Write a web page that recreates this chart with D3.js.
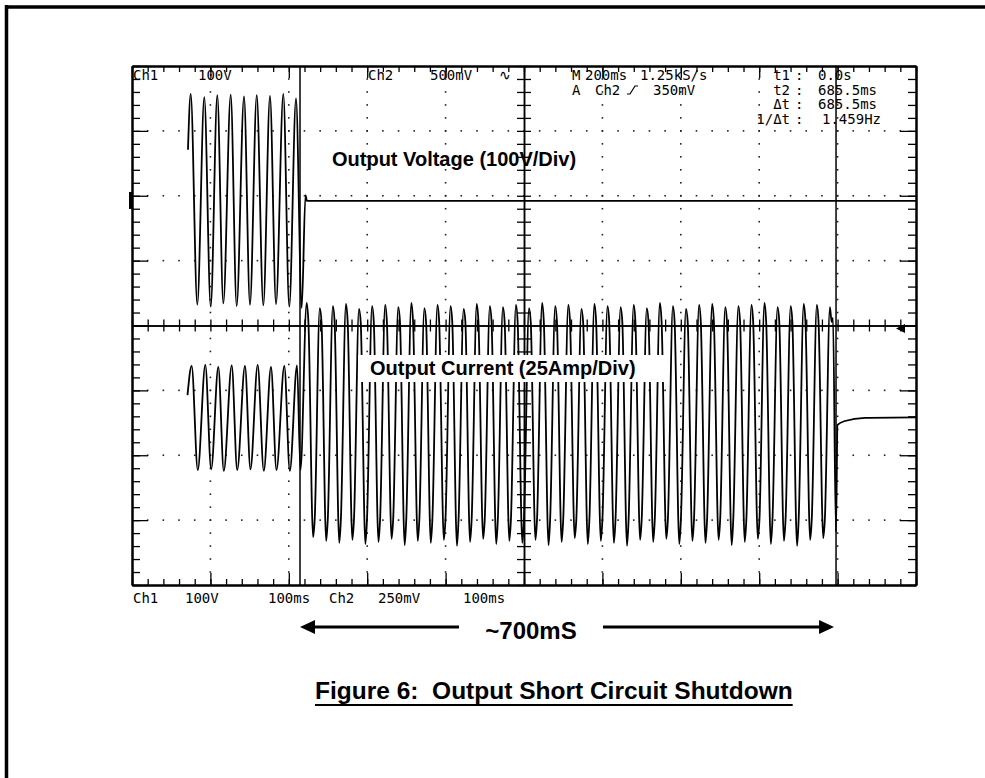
<!DOCTYPE html>
<html>
<head>
<meta charset="utf-8">
<script src="https://cdn.jsdelivr.net/npm/d3@7"></script>
<style>
body { margin: 0; background: #fff; overflow: hidden; }
svg { display: block; }
.scope text { font-family: "DejaVu Sans Mono", monospace; font-size: 14px; fill: #000; }
.note { font-family: "Liberation Sans", Arial, sans-serif; font-weight: bold; fill: #000; }
.axis path, .axis line { stroke: #000; }
</style>
</head>
<body>
<svg width="985" height="778"></svg>
<script>
// ---- values (time in ms from left edge of screen) ----

// Ch1 output voltage (V), before shutdown then flat
var voltTimes  = [71.4, 74.9, 83.3, 92.2, 100.4, 108.8, 116.5, 125.9, 133.5, 142.9, 150.5,
                  159.1, 167.5, 176.0, 183.7, 193.0, 200.6, 209.2, 216.5, 221.3, 223.2, 1000];
var voltValues = [79, 165, -160, 160, -163, 163, -158, 164, -162, 161, -160,
                  163, -161, 162, -159, 165, -163, 158, -165, 9, 0, 0];

// Ch2 output current (A) before the short
var preCurTimes  = [70.8, 76.1, 83.9, 93.5, 101.0, 110.1, 117.1, 127.2, 134.2, 144.1, 151.1,
                    160.3, 168.1, 177.3, 184.3, 194.3, 201.3, 210.5, 214.9];
var preCurValues = [9.6, 20.8, -19.3, 21.2, -19.0, 20.4, -19.6, 21.0, -19.3, 20.8, -19.0,
                    21.2, -19.6, 20.4, -19.3, 20.8, -19.6, 21.0, -19.3];

// Ch2 fault current: one peak and one trough per cycle
var faultPeakTimes = [222.8, 239.5, 256.2, 272.9, 289.5, 306.2, 322.9, 339.6, 356.3, 372.9,
                      389.6, 406.3, 423.0, 439.7, 456.4, 473.1, 489.7, 506.4, 523.1, 539.8,
                      556.5, 573.2, 589.8, 606.5, 623.2, 639.9, 656.6, 673.3, 689.9, 706.6,
                      723.3, 740.0, 756.7, 773.4, 790.1, 806.7, 823.4, 840.1, 856.8, 873.5, 890.2];
var faultPeakAmps  = [45.1, 43.1, 43.9, 44.7, 42.8, 43.9, 44.3, 43.5, 45.1, 43.1,
                      44.3, 43.9, 42.8, 44.7, 43.9, 43.5, 44.3, 43.1, 45.1, 43.9,
                      44.3, 42.8, 44.7, 43.9, 43.5, 44.3, 43.1, 45.1, 43.9, 42.8,
                      44.3, 44.7, 43.5, 43.9, 44.3, 45.1, 43.5, 43.9, 44.7, 44.3, 43.5];
var faultTroughTimes = [231.0, 247.7, 264.4, 281.1, 297.7, 314.4, 331.1, 347.8, 364.5, 381.1,
                        397.8, 414.5, 431.2, 447.9, 464.6, 481.3, 497.9, 514.6, 531.3, 548.0,
                        564.7, 581.4, 598.0, 614.7, 631.4, 648.1, 664.8, 681.5, 698.1, 714.8,
                        731.5, 748.2, 764.9, 781.6, 798.3, 814.9, 831.6, 848.3, 865.0, 881.7];
var faultTroughAmps  = [-45.1, -46.6, -47.4, -46.2, -47.8, -47.0, -45.8, -48.2, -46.6, -47.4,
                        -46.2, -48.5, -47.0, -45.8, -47.8, -46.6, -47.4, -46.2, -48.2, -47.0,
                        -45.5, -47.8, -46.6, -47.4, -48.5, -46.2, -47.0, -45.8, -47.8, -46.6,
                        -47.4, -46.2, -48.2, -47.0, -45.8, -47.8, -46.6, -48.5, -46.2, -45.5];
// small step seen just after each peak / trough (A)
var faultShoulders = [37.8, -38.5];

// Ch2 after shutdown
var postCurTimes  = [894.1, 897.9, 899.9, 909.4, 934.9, 1000];
var postCurValues = [39.3, -43.1, -1.9, -0.4, 0.8, 1.0];

var cursorTimes = [214.3, 898.0];

var topLabels = [["Ch1", 133, 80], ["100V", 198, 80], ["Ch2", 368, 80], ["500mV", 430, 80],
                 ["M", 572, 80], ["200ms", 585, 80], ["1.25kS/s", 640, 80],
                 ["A", 572, 95], ["Ch2", 595, 95], ["350mV", 653, 95]];
var readoutNames  = ["t1", "t2", "\u0394t", "1/\u0394t"];
var readoutValues = ["0.0s", "685.5ms", "685.5ms", "1.459Hz"];
var bottomLabels = [["Ch1", 133], ["100V", 185], ["100ms", 268], ["Ch2", 329], ["250mV", 378], ["100ms", 463]];

// ---- setup ----
var svg = d3.select("svg"),
    screen = {left: 132, right: 916, top: 66, bottom: 585};

var x = d3.scaleLinear().domain([0, 1000]).range([screen.left, screen.right]),
    yDiv = d3.scaleLinear().domain([-4, 4]).range([screen.bottom, screen.top]),
    yVolt = d3.scaleLinear().domain([-592, 208]).range([screen.bottom, screen.top]),   // 100V/div
    yAmp = d3.scaleLinear().domain([-63.6, 136.4]).range([screen.bottom, screen.top]); // 25A/div

// page frame (only top and left visible)
svg.append("line").attr("x1", 5).attr("x2", 985).attr("y1", 7).attr("y2", 7)
    .attr("stroke", "#000").attr("stroke-width", 3.5);
svg.append("line").attr("x1", 6.5).attr("x2", 6.5).attr("y1", 5).attr("y2", 778)
    .attr("stroke", "#000").attr("stroke-width", 3.5);

var scope = svg.append("g").attr("class", "scope");

// graticule dots
var minorX = d3.range(1, 50).map(function(k) { return k * 20; }),
    minorY = d3.range(-19, 20).map(function(k) { return k / 5; }),
    majorX = [100, 200, 300, 400, 600, 700, 800, 900],
    majorY = [-3, -2, -1, 1, 2, 3];

var dots = d3.cross(majorX, minorY).concat(d3.cross(minorX, majorY));
scope.append("g").selectAll("rect")
    .data(dots)
    .enter().append("rect")
    .attr("x", function(d) { return x(d[0]) - 0.8; })
    .attr("y", function(d) { return yDiv(d[1]) - 0.8; })
    .attr("width", 1.6).attr("height", 1.6)
    .attr("fill", "#222");

// edge and centre ticks with d3 axes
var minorTicksX = d3.range(0, 51).map(function(k) { return k * 20; }),
    majorTicksX = d3.range(0, 11).map(function(k) { return k * 100; }),
    minorTicksY = d3.range(-20, 21).map(function(k) { return k / 5; }),
    majorTicksY = d3.range(-4, 5);

function addAxis(axis, transform, width) {
    var g = scope.append("g").attr("class", "axis")
        .attr("transform", transform)
        .call(axis.tickFormat("").tickSizeOuter(0));
    g.select(".domain").attr("stroke-width", width);
    g.selectAll(".tick line").attr("stroke-width", 1.3);
    return g;
}

addAxis(d3.axisBottom(x).tickValues(minorTicksX).tickSize(6), "translate(0," + screen.top + ")", 2);
addAxis(d3.axisBottom(x).tickValues(majorTicksX).tickSize(12), "translate(0," + screen.top + ")", 2);
addAxis(d3.axisTop(x).tickValues(minorTicksX).tickSize(6), "translate(0," + screen.bottom + ")", 2);
addAxis(d3.axisTop(x).tickValues(majorTicksX).tickSize(12), "translate(0," + screen.bottom + ")", 2);
addAxis(d3.axisRight(yDiv).tickValues(minorTicksY).tickSize(8), "translate(" + screen.left + ",0)", 2);
addAxis(d3.axisRight(yDiv).tickValues(majorTicksY).tickSize(16), "translate(" + screen.left + ",0)", 2);
addAxis(d3.axisLeft(yDiv).tickValues(minorTicksY).tickSize(8), "translate(" + screen.right + ",0)", 2);
addAxis(d3.axisLeft(yDiv).tickValues(majorTicksY).tickSize(16), "translate(" + screen.right + ",0)", 2);

// centre cross
addAxis(d3.axisBottom(x).tickValues(minorTicksX).tickSize(6), "translate(0," + yDiv(0) + ")", 1.5);
addAxis(d3.axisTop(x).tickValues(minorTicksX).tickSize(6), "translate(0," + yDiv(0) + ")", 1.5);
addAxis(d3.axisLeft(yDiv).tickValues(minorTicksY).tickSize(7), "translate(" + x(500) + ",0)", 1.5);
addAxis(d3.axisRight(yDiv).tickValues(minorTicksY).tickSize(7), "translate(" + x(500) + ",0)", 1.5);

// channel markers
scope.append("rect").attr("x", screen.left - 3).attr("y", yVolt(0) - 9)
    .attr("width", 4).attr("height", 17).attr("fill", "#000");
scope.append("path")
    .attr("d", "M" + (screen.right - 20) + "," + (yDiv(0) + 3) + "l9,-4.5v9z")
    .attr("fill", "#000");

// cursors
scope.selectAll(".cursor")
    .data(cursorTimes)
    .enter().append("line")
    .attr("class", "cursor")
    .attr("x1", function(d) { return x(d); }).attr("x2", function(d) { return x(d); })
    .attr("y1", screen.top).attr("y2", screen.bottom)
    .attr("stroke", "#000").attr("stroke-width", 1.5);

// traces
function pairs(ts, vs) { return ts.map(function(t, i) { return [t, vs[i]]; }); }

var voltLine = d3.line()
    .x(function(d) { return x(d[0]); })
    .y(function(d) { return yVolt(d[1]); })
    .curve(d3.curveMonotoneX);
var ampLine = d3.line()
    .x(function(d) { return x(d[0]); })
    .y(function(d) { return yAmp(d[1]); })
    .curve(d3.curveMonotoneX);

var current = pairs(preCurTimes, preCurValues);
faultPeakTimes.forEach(function(t, i) {
    current.push([t, faultPeakAmps[i]]);
    current.push([t + 2.2, faultShoulders[0]]);
    if (i < faultTroughTimes.length) {
        current.push([faultTroughTimes[i], faultTroughAmps[i]]);
        current.push([faultTroughTimes[i] + 2.0, faultShoulders[1]]);
    }
});
current = current.concat(pairs(postCurTimes, postCurValues));

scope.append("path")
    .attr("d", voltLine(pairs(voltTimes, voltValues)))
    .attr("fill", "none").attr("stroke", "#000").attr("stroke-width", 1.8);
scope.append("path")
    .attr("d", ampLine(current))
    .attr("fill", "none").attr("stroke", "#000").attr("stroke-width", 1.8);

// scope readouts
scope.selectAll(".toplabel")
    .data(topLabels)
    .enter().append("text")
    .attr("x", function(d) { return d[1]; })
    .attr("y", function(d) { return d[2]; })
    .text(function(d) { return d[0]; });
scope.append("text").attr("x", 499).attr("y", 80).text("\u223F");
scope.append("path").attr("d", "M627,94h3l5,-8h3").attr("fill", "none")
    .attr("stroke", "#000").attr("stroke-width", 1.2);

readoutNames.forEach(function(name, i) {
    var yy = 80 + i * 14.6;
    scope.append("text").attr("x", 790).attr("y", yy).attr("text-anchor", "end").text(name);
    scope.append("text").attr("x", 795).attr("y", yy).text(":");
    scope.append("text").attr("x", i == 3 ? 822 : 818).attr("y", yy).text(readoutValues[i]);
});

scope.selectAll(".botlabel")
    .data(bottomLabels)
    .enter().append("text")
    .attr("x", function(d) { return d[1]; })
    .attr("y", 603)
    .text(function(d) { return d[0]; });

// annotations
svg.append("text").attr("class", "note").attr("x", 332).attr("y", 166)
    .style("font-size", "20px").text("Output Voltage (100V/Div)");
svg.append("rect").attr("x", 358).attr("y", 355).attr("width", 310).attr("height", 27).attr("fill", "#fff");
svg.append("text").attr("class", "note").attr("x", 370).attr("y", 375)
    .style("font-size", "20px").text("Output Current (25Amp/Div)");

var arrowY = 627;
svg.append("line").attr("x1", 312).attr("x2", 459).attr("y1", arrowY).attr("y2", arrowY)
    .attr("stroke", "#000").attr("stroke-width", 2.8);
svg.append("line").attr("x1", 603).attr("x2", 822).attr("y1", arrowY).attr("y2", arrowY)
    .attr("stroke", "#000").attr("stroke-width", 2.8);
svg.append("path").attr("d", "M" + x(cursorTimes[0]) + "," + arrowY + "l15,-7v14z").attr("fill", "#000");
svg.append("path").attr("d", "M" + (x(cursorTimes[1]) - 2) + "," + arrowY + "l-15,-7v14z").attr("fill", "#000");
svg.append("text").attr("class", "note").attr("x", 531).attr("y", 639)
    .attr("text-anchor", "middle").style("font-size", "24px").text("~700mS");

var title = svg.append("text").attr("class", "note").attr("x", 315).attr("y", 699)
    .style("font-size", "24.5px").style("white-space", "pre")
    .text("Figure 6:  Output Short Circuit Shutdown");
var tw = title.node().getComputedTextLength();
svg.append("line").attr("x1", 315).attr("x2", 315 + tw).attr("y1", 705).attr("y2", 705)
    .attr("stroke", "#000").attr("stroke-width", 2.2);
</script>
</body>
</html>
